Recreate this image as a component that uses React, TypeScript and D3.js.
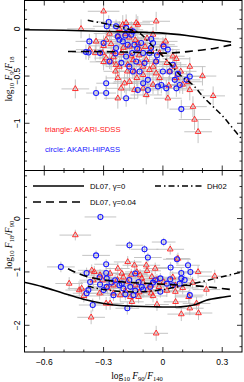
import React from 'react';
import * as d3 from 'd3';

// each point: [log F90/F140, log ratio, x error, y error]
type Pt = [number, number, number, number];

const sdssTop: Pt[] = [
  [-0.300, 0.186, 0.08, 0.14], [-0.414, 0.000, 0.07, 0.10], [-0.443, -0.636, 0.07, 0.10],
  [-0.338, -0.133, 0.08, 0.09], [-0.342, -0.256, 0.07, 0.08], [-0.287, -0.115, 0.06, 0.08],
  [-0.262, -0.160, 0.07, 0.09], [-0.305, -0.256, 0.06, 0.07], [-0.250, -0.246, 0.08, 0.09],
  [-0.228, -0.080, 0.06, 0.08], [-0.203, 0.045, 0.07, 0.10], [-0.186, 0.063, 0.06, 0.09],
  [-0.127, 0.045, 0.08, 0.09], [-0.220, -0.400, 0.07, 0.10], [-0.178, -0.380, 0.06, 0.09],
  [-0.169, -0.560, 0.08, 0.10], [-0.132, -0.520, 0.07, 0.09], [-0.211, -0.630, 0.08, 0.11],
  [-0.144, -0.647, 0.06, 0.10], [-0.100, -0.630, 0.07, 0.09], [-0.034, 0.080, 0.07, 0.10],
  [0.014, -0.133, 0.06, 0.08], [-0.017, -0.256, 0.07, 0.09], [0.050, -0.290, 0.06, 0.08],
  [0.060, -0.400, 0.07, 0.10], [-0.034, -0.470, 0.06, 0.09], [0.025, -0.735, 0.07, 0.11],
  [-0.068, -0.434, 0.06, 0.09], [-0.262, -0.346, 0.07, 0.09], [-0.127, -0.150, 0.06, 0.08],
  [-0.160, -0.290, 0.07, 0.08], [-0.118, -0.363, 0.06, 0.09], [-0.084, -0.328, 0.07, 0.08],
  [-0.169, -0.186, 0.06, 0.07], [-0.211, -0.256, 0.07, 0.08], [-0.100, -0.487, 0.06, 0.09],
  [-0.017, -0.520, 0.07, 0.10], [-0.050, -0.590, 0.06, 0.10], [0.068, -0.317, 0.07, 0.09],
  [0.136, -0.400, 0.08, 0.10], [0.034, -0.450, 0.06, 0.09], [0.127, -0.560, 0.07, 0.10],
  [0.100, -0.590, 0.06, 0.10], [0.136, -0.647, 0.07, 0.11], [-0.084, -0.700, 0.08, 0.10],
  [0.152, -0.824, 0.07, 0.11], [0.160, -0.960, 0.08, 0.11], [0.254, -0.710, 0.06, 0.10],
  [0.178, -1.090, 0.07, 0.12], [-0.135, 0.063, 0.07, 0.09], [0.000, -0.168, 0.06, 0.08],
  [-0.370, -0.220, 0.07, 0.09], [-0.287, -0.310, 0.06, 0.08], [-0.237, -0.380, 0.07, 0.09],
  [-0.228, -0.520, 0.06, 0.10], [-0.144, -0.450, 0.07, 0.09], [-0.194, -0.576, 0.06, 0.10],
  [-0.228, -0.735, 0.07, 0.11], [-0.037, -0.346, 0.06, 0.09], [0.068, -0.520, 0.07, 0.10],
  [-0.300, -0.350, 0.07, 0.09], [-0.240, -0.450, 0.06, 0.10], [-0.050, -0.060, 0.07, 0.08],
  [-0.080, -0.100, 0.06, 0.08], [-0.190, -0.050, 0.07, 0.08], [-0.160, -0.010, 0.06, 0.09],
  [-0.140, -0.120, 0.07, 0.08], [-0.270, -0.050, 0.08, 0.09], [-0.220, 0.000, 0.07, 0.08],
  [-0.170, -0.090, 0.08, 0.09], [-0.120, -0.210, 0.07, 0.08], [-0.090, -0.190, 0.08, 0.09],
  [-0.060, -0.230, 0.07, 0.08], [-0.200, -0.200, 0.08, 0.09], [-0.250, -0.300, 0.07, 0.08],
  [-0.150, -0.330, 0.08, 0.09], [-0.100, -0.400, 0.07, 0.09], [-0.050, -0.400, 0.08, 0.10],
  [0.020, -0.360, 0.07, 0.09], [-0.300, -0.180, 0.08, 0.09], [-0.180, -0.450, 0.07, 0.10],
  [0.090, -0.450, 0.08, 0.10], [0.200, -0.500, 0.07, 0.10], [0.030, -0.600, 0.08, 0.10],
  [-0.120, -0.280, 0.07, 0.08],
];

const hipassTop: Pt[] = [
  [-0.274, 0.073, 0.06, 0.07], [-0.284, 0.027, 0.07, 0.07], [-0.372, -0.133, 0.07, 0.08],
  [-0.237, 0.027, 0.06, 0.07], [-0.186, 0.010, 0.07, 0.08], [-0.160, -0.062, 0.06, 0.07],
  [-0.220, -0.115, 0.07, 0.07], [-0.203, -0.133, 0.06, 0.08], [-0.237, -0.203, 0.07, 0.08],
  [-0.178, -0.168, 0.06, 0.07], [-0.144, -0.168, 0.07, 0.08], [-0.110, -0.150, 0.06, 0.07],
  [-0.155, -0.256, 0.07, 0.08], [-0.376, -0.250, 0.07, 0.08], [-0.318, -0.256, 0.06, 0.07],
  [-0.270, -0.346, 0.07, 0.08], [-0.186, -0.293, 0.06, 0.08], [-0.135, -0.346, 0.07, 0.08],
  [-0.100, -0.256, 0.06, 0.07], [-0.068, -0.256, 0.07, 0.08], [-0.152, -0.452, 0.06, 0.08],
  [-0.118, -0.452, 0.07, 0.09], [-0.093, -0.363, 0.06, 0.08], [-0.076, -0.540, 0.07, 0.09],
  [-0.100, -0.576, 0.06, 0.09], [-0.287, -0.576, 0.05, 0.08], [-0.338, -0.680, 0.05, 0.07],
  [-0.287, -0.680, 0.05, 0.07], [-0.034, -0.346, 0.06, 0.08], [0.004, -0.186, 0.07, 0.08],
  [0.000, -0.452, 0.06, 0.09], [0.034, -0.452, 0.07, 0.08], [0.060, -0.540, 0.06, 0.09],
  [-0.008, -0.594, 0.07, 0.09], [0.017, -0.630, 0.06, 0.09], [0.068, -0.630, 0.07, 0.09],
  [-0.186, -0.735, 0.06, 0.09], [-0.127, -0.647, 0.07, 0.09], [-0.076, -0.647, 0.06, 0.09],
  [-0.059, -0.107, 0.07, 0.08], [0.076, -0.477, 0.06, 0.08], [0.136, -0.505, 0.07, 0.09],
  [0.085, -0.594, 0.06, 0.09], [0.093, -0.850, 0.06, 0.10], [-0.025, -0.610, 0.07, 0.09],
  [-0.389, -0.246, 0.07, 0.08], [0.025, -0.220, 0.06, 0.08], [0.119, -0.540, 0.07, 0.09],
  [-0.050, -0.150, 0.06, 0.08], [-0.152, -0.027, 0.07, 0.07], [-0.228, -0.080, 0.06, 0.07],
  [-0.240, -0.260, 0.07, 0.08], [-0.210, -0.360, 0.06, 0.08], [-0.130, -0.210, 0.07, 0.08],
  [-0.060, -0.200, 0.06, 0.08], [-0.030, -0.280, 0.07, 0.08], [-0.170, -0.400, 0.06, 0.08],
  [0.050, -0.380, 0.07, 0.09], [-0.190, -0.070, 0.06, 0.07], [-0.300, -0.150, 0.07, 0.08],
];

const sdssBot: Pt[] = [
  [-0.443, -0.310, 0.08, 0.10], [0.037, -0.576, 0.07, 0.10], [0.076, -0.750, 0.06, 0.11],
  [-0.178, -0.813, 0.07, 0.11], [-0.144, -0.875, 0.06, 0.10], [-0.084, -0.875, 0.07, 0.11],
  [-0.228, -0.936, 0.06, 0.11], [0.178, -1.000, 0.07, 0.12], [0.262, -1.080, 0.08, 0.12],
  [-0.474, -1.217, 0.07, 0.12], [-0.423, -1.340, 0.07, 0.12], [-0.347, -1.000, 0.06, 0.11],
  [-0.305, -1.155, 0.07, 0.11], [-0.287, -1.590, 0.06, 0.12], [0.093, -1.790, 0.07, 0.13],
  [-0.034, -2.150, 0.06, 0.14], [-0.363, -1.850, 0.07, 0.13], [0.136, -1.680, 0.07, 0.13],
  [0.064, -1.560, 0.06, 0.12], [0.170, -1.590, 0.07, 0.12], [0.180, -1.770, 0.07, 0.13],
  [-0.059, -1.400, 0.06, 0.11], [-0.360, -0.970, 0.07, 0.11], [-0.039, -0.936, 0.06, 0.11],
  [-0.411, -1.310, 0.07, 0.12], [-0.250, -1.250, 0.06, 0.11], [-0.107, -1.120, 0.07, 0.11],
  [-0.056, -1.090, 0.06, 0.11], [0.004, -1.190, 0.07, 0.11], [0.063, -1.250, 0.06, 0.11],
  [0.063, -1.370, 0.07, 0.12], [-0.123, -1.467, 0.06, 0.12], [-0.165, -1.467, 0.07, 0.12],
  [-0.216, -1.435, 0.06, 0.12], [-0.267, -1.590, 0.07, 0.12], [-0.157, -1.560, 0.06, 0.12],
  [-0.115, -1.060, 0.07, 0.11], [-0.030, -1.610, 0.06, 0.12], [0.130, -1.467, 0.07, 0.12],
  [-0.267, -1.030, 0.06, 0.11], [-0.208, -1.030, 0.07, 0.11], [-0.318, -1.060, 0.06, 0.11],
  [-0.352, -1.155, 0.07, 0.11], [-0.132, -1.000, 0.06, 0.11], [-0.020, -1.280, 0.06, 0.11],
  [-0.180, -1.180, 0.07, 0.11], [-0.080, -1.340, 0.06, 0.11], [-0.280, -1.300, 0.08, 0.12],
  [-0.230, -1.150, 0.07, 0.11], [-0.190, -1.350, 0.08, 0.12], [-0.140, -1.250, 0.07, 0.11],
  [-0.100, -1.200, 0.08, 0.11], [-0.060, -1.250, 0.07, 0.12], [-0.030, -1.150, 0.08, 0.11],
  [0.020, -1.350, 0.07, 0.12], [-0.200, -1.100, 0.08, 0.11], [-0.120, -1.380, 0.07, 0.12],
  [-0.250, -1.400, 0.08, 0.12], [-0.320, -1.400, 0.07, 0.12], [0.100, -1.300, 0.08, 0.12],
  [0.150, -1.200, 0.07, 0.11], [-0.160, -1.050, 0.08, 0.11], [-0.050, -1.450, 0.07, 0.12],
  [0.050, -1.100, 0.08, 0.11], [0.220, -1.330, 0.07, 0.12], [-0.400, -1.450, 0.08, 0.12],
  [-0.080, -0.980, 0.07, 0.11],
];

const hipassBot: Pt[] = [
  [-0.316, 0.030, 0.08, 0.06], [-0.169, -0.500, 0.07, 0.08], [-0.093, -0.576, 0.07, 0.08],
  [0.004, -0.440, 0.06, 0.08], [-0.338, -0.690, 0.07, 0.09], [-0.076, -0.730, 0.07, 0.09],
  [-0.287, -0.856, 0.06, 0.09], [-0.516, -0.906, 0.07, 0.10], [0.127, -0.875, 0.06, 0.09],
  [0.039, -0.918, 0.07, 0.10], [-0.386, -1.020, 0.07, 0.10], [0.093, -1.020, 0.06, 0.10],
  [0.093, -1.120, 0.06, 0.10], [0.085, -1.220, 0.07, 0.11], [-0.287, -1.020, 0.06, 0.10],
  [-0.355, -1.620, 0.07, 0.12], [-0.180, -1.680, 0.06, 0.12], [0.136, -1.435, 0.07, 0.11],
  [-0.386, -1.400, 0.07, 0.11], [-0.368, -1.190, 0.06, 0.10], [-0.242, -1.155, 0.07, 0.10],
  [-0.165, -1.280, 0.06, 0.11], [-0.123, -1.190, 0.07, 0.10], [-0.039, -1.155, 0.06, 0.10],
  [0.020, -1.220, 0.07, 0.11], [0.139, -1.000, 0.06, 0.10], [0.071, -0.763, 0.07, 0.09],
  [-0.140, -1.030, 0.06, 0.10], [-0.284, -1.120, 0.07, 0.10], [-0.300, -1.340, 0.06, 0.11],
  [-0.377, -1.340, 0.07, 0.11], [-0.250, -1.435, 0.07, 0.11], [-0.107, -1.280, 0.06, 0.10],
  [-0.200, -1.310, 0.07, 0.11], [-0.013, -1.370, 0.06, 0.11], [-0.208, -1.220, 0.07, 0.10],
  [-0.149, -1.435, 0.06, 0.11], [-0.284, -1.280, 0.07, 0.10], [-0.318, -1.235, 0.06, 0.10],
  [-0.064, -1.280, 0.07, 0.10], [0.037, -1.136, 0.06, 0.10], [-0.013, -1.120, 0.07, 0.10],
  [-0.220, -1.250, 0.07, 0.10], [-0.170, -1.150, 0.06, 0.10], [-0.100, -1.330, 0.07, 0.11],
  [-0.050, -1.200, 0.06, 0.10], [-0.260, -1.200, 0.07, 0.10], [-0.140, -1.350, 0.06, 0.11],
  [0.050, -1.250, 0.07, 0.10], [-0.320, -1.100, 0.06, 0.10], [-0.190, -1.420, 0.07, 0.11],
  [0.110, -1.150, 0.06, 0.10],
];

// model curves
const dl07g0Top: [number, number][] = [
  [-0.70, -0.01], [-0.50, -0.015], [-0.32, -0.025], [-0.15, -0.035], [0.0, -0.045],
  [0.12, -0.07], [0.25, -0.11], [0.345, -0.14],
];
const dl07g04Top: [number, number][] = [
  [-0.48, -0.24], [-0.35, -0.24], [-0.2, -0.245], [-0.05, -0.255], [0.05, -0.255],
  [0.15, -0.235], [0.25, -0.21], [0.345, -0.17],
];
const dh02Top: [number, number][] = [
  [-0.38, 0.09], [-0.27, 0.045], [-0.18, 0.0], [-0.118, -0.044], [-0.068, -0.15],
  [-0.008, -0.274], [0.034, -0.363], [0.085, -0.487], [0.152, -0.594], [0.203, -0.718],
  [0.254, -0.824], [0.305, -0.93], [0.347, -1.037], [0.40, -1.17],
];
const dl07g0Bot: [number, number][] = [
  [-0.707, -1.19], [-0.606, -1.28], [-0.504, -1.40], [-0.402, -1.51], [-0.30, -1.59],
  [-0.20, -1.635], [-0.03, -1.654], [0.09, -1.654], [0.156, -1.62], [0.22, -1.53],
  [0.31, -1.47], [0.344, -1.45],
];
const dl07g04Bot: [number, number][] = [
  [-0.48, -0.94], [-0.44, -1.01], [-0.38, -1.09], [-0.3, -1.15], [-0.2, -1.19],
  [-0.1, -1.21], [0.0, -1.23], [0.1, -1.25], [0.2, -1.27], [0.345, -1.33],
];
const dh02Bot: [number, number][] = [
  [-0.38, -1.27], [-0.3, -1.33], [-0.2, -1.37], [-0.1, -1.37], [0.0, -1.33],
  [0.1, -1.26], [0.2, -1.18], [0.3, -1.09], [0.4, -1.0],
];

const xMajor = [-0.6, -0.3, 0, 0.3];
const xMinor = [-0.6, -0.5, -0.4, -0.3, -0.2, -0.1, 0, 0.1, 0.2, 0.3];
const xTickLabels = ['\u22120.6', '\u22120.3', '0', '0.3'];
const yTopMajor = [0, -0.5, -1];
const yTopMinor = [0.2, 0.1, 0, -0.1, -0.2, -0.3, -0.4, -0.5, -0.6, -0.7, -0.8, -0.9, -1, -1.1, -1.2, -1.3, -1.4];
const yTopLabels = ['0', '\u22120.5', '\u22121'];
const yBotMajor = [0, -1, -2];
const yBotMinor = [0.8, 0.6, 0.4, 0.2, 0, -0.2, -0.4, -0.6, -0.8, -1, -1.2, -1.4, -1.6, -1.8, -2, -2.2, -2.4];
const yBotLabels = ['0', '\u22121', '\u22122'];

const W = 244;
const H = 382;
const L = 24.5;
const R = 242;
const T = 0.5;
const M = 170.5;
const B = 352;

const RED = '#ff1a1a';
const BLUE = '#1a1aff';
const ERR = '#bdbdbd';

const x = d3.scaleLinear().domain([-0.7, 0.4]).range([L, R]);
const yTop = d3.scaleLinear().domain([-1.5, 0.3]).range([M, T]);
const yBot = d3.scaleLinear().domain([-2.5, 0.9]).range([B, M]);

const tri = d3.symbol(d3.symbolTriangle, 14)() as string;

function Panel({ y, red, blue, lines, major, minor, labels, id, y0, y1 }: {
  y: d3.ScaleLinear<number, number>;
  red: Pt[];
  blue: Pt[];
  lines: { data: [number, number][]; dash: string; w: number }[];
  major: number[];
  minor: number[];
  labels: string[];
  id: string;
  y0: number;
  y1: number;
}) {
  const line = d3.line<[number, number]>()
    .x(d => x(d[0]))
    .y(d => y(d[1]))
    .curve(d3.curveCatmullRom);
  const errs = (pts: Pt[]) => pts.map((p, i) => (
    <g key={i}>
      <line x1={x(p[0] - p[2])} x2={x(p[0] + p[2])} y1={y(p[1])} y2={y(p[1])} />
      <line x1={x(p[0])} x2={x(p[0])} y1={y(p[1] - p[3])} y2={y(p[1] + p[3])} />
    </g>
  ));
  return (
    <g>
      <clipPath id={id}>
        <rect x={L} y={y0} width={R - L} height={y1 - y0} />
      </clipPath>
      <g clipPath={`url(#${id})`}>
        <g stroke={ERR} strokeWidth={0.9}>
          {errs(red)}
          {errs(blue)}
        </g>
        {red.map((p, i) => (
          <path key={'r' + i} d={tri} transform={`translate(${x(p[0])},${y(p[1])})`}
            fill="none" stroke={RED} strokeWidth={0.9} />
        ))}
        {blue.map((p, i) => (
          <circle key={'b' + i} cx={x(p[0])} cy={y(p[1])} r={2.5}
            fill="none" stroke={BLUE} strokeWidth={1.1} />
        ))}
        {lines.map((l, i) => (
          <path key={'l' + i} d={line(l.data) ?? ''} fill="none" stroke="#000"
            strokeWidth={l.w} strokeDasharray={l.dash} />
        ))}
      </g>
      {/* ticks */}
      <g stroke="#000" strokeWidth={0.8}>
        {minor.map(v => {
          const big = major.some(m => Math.abs(m - v) < 1e-6);
          const len = big ? 5 : 2.5;
          return (
            <g key={'y' + v}>
              <line x1={L} x2={L + len} y1={y(v)} y2={y(v)} />
              <line x1={R} x2={R - len} y1={y(v)} y2={y(v)} />
            </g>
          );
        })}
        {xMinor.map(v => {
          const big = xMajor.some(m => Math.abs(m - v) < 1e-6);
          const len = big ? 5 : 2.5;
          return (
            <g key={'x' + v}>
              <line x1={x(v)} x2={x(v)} y1={y0} y2={y0 + len} />
              <line x1={x(v)} x2={x(v)} y1={y1} y2={y1 - len} />
            </g>
          );
        })}
      </g>
      <rect x={L} y={y0} width={R - L} height={y1 - y0} fill="none" stroke="#000" strokeWidth={1} />
      {major.map((v, i) => (
        <text key={'lab' + v} transform={`translate(${L - 5},${y(v)}) rotate(-90)`}
          textAnchor="middle" fontSize={8.5} fontFamily="Liberation Sans, Arial, sans-serif">
          {labels[i]}
        </text>
      ))}
    </g>
  );
}

function Ratio({ a, b, tx, ty }: { a: string; b: string; tx: number; ty: number }) {
  return (
    <text transform={`translate(${tx},${ty}) rotate(-90)`} textAnchor="middle"
      fontSize={9.5} fontFamily="Liberation Serif, Times New Roman, serif">
      log<tspan fontSize={6.5} dy={2}>10</tspan>
      <tspan dy={-2}> </tspan>
      <tspan fontStyle="italic">F</tspan><tspan fontSize={6.5} dy={2}>{a}</tspan>
      <tspan dy={-2}>/</tspan>
      <tspan fontStyle="italic">F</tspan><tspan fontSize={6.5} dy={2}>{b}</tspan>
    </text>
  );
}

export default function App() {
  const sans = 'Liberation Sans, Arial, sans-serif';
  return (
    <svg width={W} height={H} style={{ position: 'absolute', left: 0, top: 0, background: '#fff' }}>
      <rect width={W} height={H} fill="#fff" />
      <Panel y={yTop} red={sdssTop} blue={hipassTop} id="cTop" y0={T} y1={M}
        major={yTopMajor} minor={yTopMinor} labels={yTopLabels}
        lines={[
          { data: dl07g0Top, dash: '', w: 1.6 },
          { data: dl07g04Top, dash: '8,5', w: 1.6 },
          { data: dh02Top, dash: '6,3,1.5,3', w: 1.5 },
        ]} />
      <Panel y={yBot} red={sdssBot} blue={hipassBot} id="cBot" y0={M} y1={B}
        major={yBotMajor} minor={yBotMinor} labels={yBotLabels}
        lines={[
          { data: dl07g0Bot, dash: '', w: 1.6 },
          { data: dl07g04Bot, dash: '8,5', w: 1.6 },
          { data: dh02Bot, dash: '6,3,1.5,3', w: 1.5 },
        ]} />

      {/* sample legend */}
      <text x={45} y={132} fontSize={7.7} fontFamily={sans} fill={RED}>triangle: AKARI-SDSS</text>
      <text x={45} y={151.5} fontSize={7.7} fontFamily={sans} fill={BLUE}>circle: AKARI-HIPASS</text>

      {/* model legend */}
      <line x1={33} x2={84} y1={186} y2={186} stroke="#000" strokeWidth={1.6} />
      <text x={90} y={188.5} fontSize={7.7} fontFamily={sans}>DL07, γ=0</text>
      <line x1={33} x2={84} y1={202} y2={202} stroke="#000" strokeWidth={1.6} strokeDasharray="8,5" />
      <text x={90} y={204.5} fontSize={7.7} fontFamily={sans}>DL07, γ=0.04</text>
      <line x1={155} x2={203} y1={186} y2={186} stroke="#000" strokeWidth={1.5} strokeDasharray="6,3,1.5,3" />
      <text x={207} y={188.5} fontSize={7.7} fontFamily={sans}>DH02</text>

      {/* x tick labels */}
      {xMajor.map((v, i) => (
        <text key={v} x={x(v)} y={365} textAnchor="middle" fontSize={8.5} fontFamily={sans}>
          {xTickLabels[i]}
        </text>
      ))}
      <text x={137} y={379} textAnchor="middle" fontSize={9.5}
        fontFamily="Liberation Serif, Times New Roman, serif">
        log<tspan fontSize={6.5} dy={2}>10</tspan>
        <tspan dy={-2}> </tspan>
        <tspan fontStyle="italic">F</tspan><tspan fontSize={6.5} dy={2}>90</tspan>
        <tspan dy={-2}>/</tspan>
        <tspan fontStyle="italic">F</tspan><tspan fontSize={6.5} dy={2}>140</tspan>
      </text>
      <Ratio a="9" b="18" tx={12} ty={79} />
      <Ratio a="18" b="90" tx={12} ty={245} />
    </svg>
  );
}
